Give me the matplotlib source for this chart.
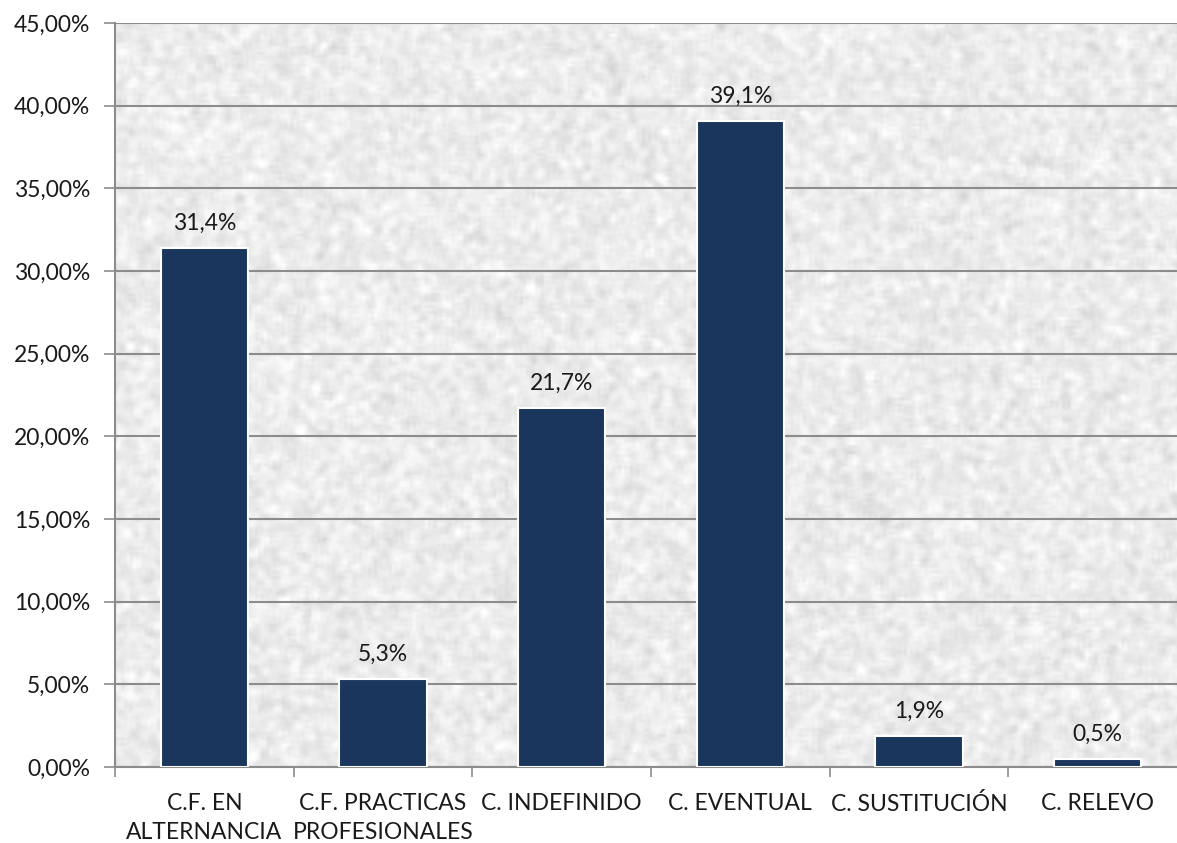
import numpy as np
import matplotlib.pyplot as plt
from matplotlib.ticker import FuncFormatter, FixedLocator

categories = ["C.F. EN\nALTERNANCIA", "C.F. PRACTICAS\nPROFESIONALES", "C. INDEFINIDO",
              "C. EVENTUAL", "C. SUSTITUCIÓN", "C. RELEVO"]
values = [31.4, 5.3, 21.7, 39.1, 1.9, 0.5]
yticks = [0, 5, 10, 15, 20, 25, 30, 35, 40, 45]

plt.rcParams['font.family'] = ['Lato', 'DejaVu Sans']
FS = 16.5

fig = plt.figure(figsize=(11.77, 8.43), dpi=100)
ax = fig.add_axes([115 / 1177, 1 - 767 / 843, 1072 / 1177, 744 / 843])

# textured grey background (decoration only)
rng = np.random.default_rng(3)
noise = rng.normal(0, 1, (250, 360))
p = np.pad(noise, 1, mode='wrap')
sm = sum(p[i:i + noise.shape[0], j:j + noise.shape[1]] for i in range(3) for j in range(3)) / 9
sm = 0.925 + 0.025 * sm / sm.std()
ax.imshow(np.clip(sm, 0.82, 1.0), cmap='gray', vmin=0, vmax=1, extent=(-0.5, 5.5, 0, 45),
          aspect='auto', interpolation='bilinear', zorder=0)

x = np.arange(len(categories))
bars = ax.bar(x, values, width=0.49, color='#1a365d', edgecolor='white', linewidth=1.5, zorder=3)
for b, v in zip(bars, values):
    ax.text(b.get_x() + b.get_width() / 2, v + 0.85, f"{v:.1f}%".replace('.', ','),
            ha='center', va='bottom', fontsize=FS, color='#1a1a1a', zorder=4)

ax.set_xlim(-0.5, 5.5)
ax.set_ylim(0, 45)
ax.set_yticks(yticks)
ax.yaxis.set_major_formatter(FuncFormatter(lambda v, p: f"{v:.2f}%".replace('.', ',')))
ax.yaxis.grid(True, color='#8c8c8c', linewidth=1.5, zorder=1)
ax.set_axisbelow(True)

ax.set_xticks(x)
ax.set_xticklabels(categories, fontsize=FS, color='#1a1a1a', linespacing=1.45)
ax.xaxis.set_minor_locator(FixedLocator(np.arange(-0.5, 6.0, 1.0)))
ax.tick_params(axis='x', which='major', length=0, pad=19)
ax.tick_params(axis='x', which='minor', length=7, color='#8c8c8c', width=1.2)
ax.tick_params(axis='y', length=8, color='#8c8c8c', width=1.2, labelsize=FS, labelcolor='#1a1a1a', pad=10)

for s in ['top', 'right']:
    ax.spines[s].set_visible(False)
for s in ['left', 'bottom']:
    ax.spines[s].set_color('#8c8c8c')
    ax.spines[s].set_linewidth(1.5)

fig.savefig('out.png', dpi=100)
